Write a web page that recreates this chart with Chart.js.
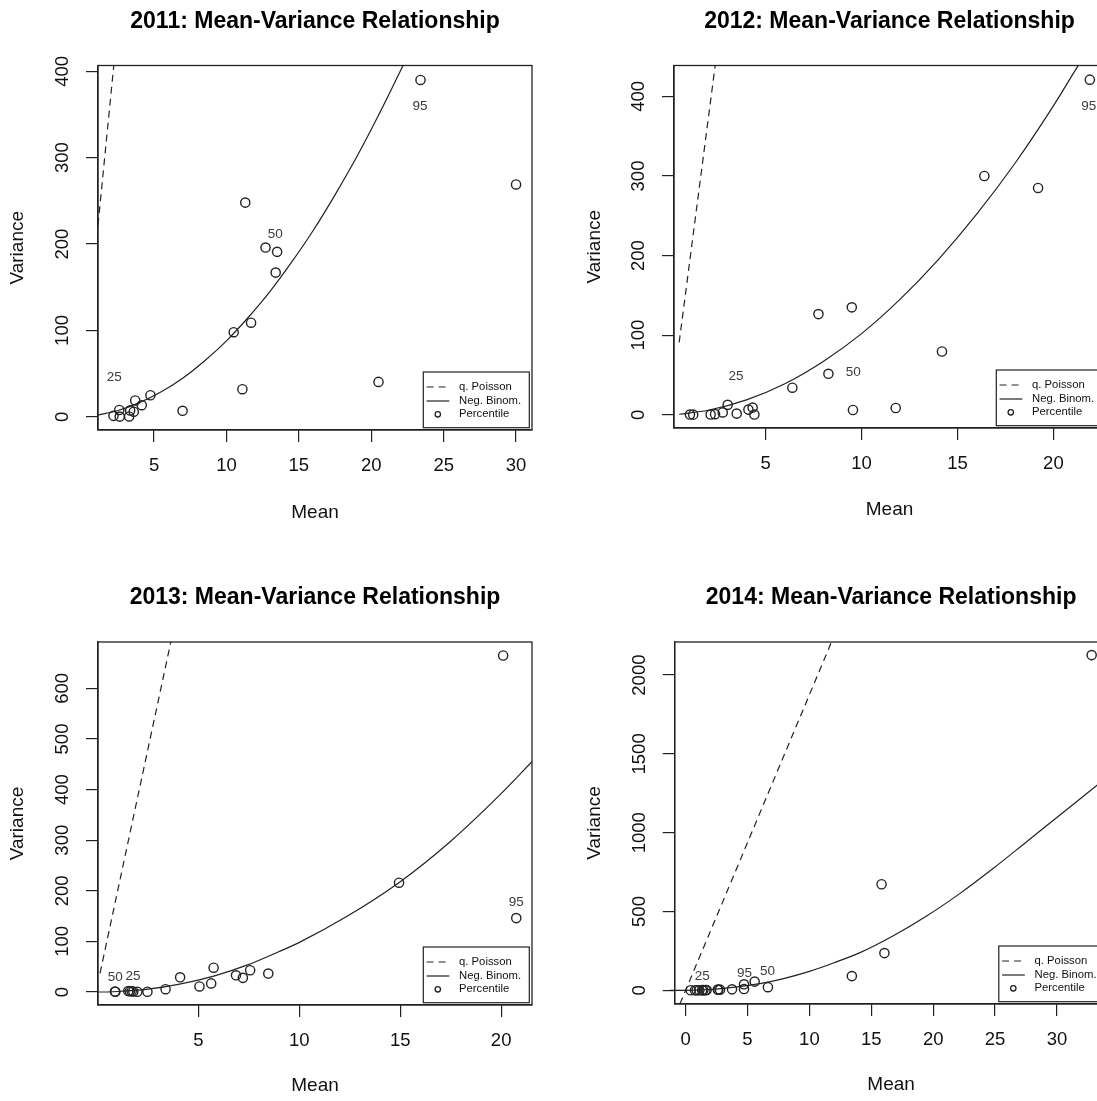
<!DOCTYPE html>
<html>
<head>
<meta charset="utf-8">
<title>Mean-Variance Relationship</title>
<script src="https://cdn.jsdelivr.net/npm/chart.js@4.4.1/dist/chart.umd.min.js"></script>
<style>
    html, body { margin: 0; padding: 0; background: #fff; overflow: hidden; }
    #page { position: relative; width: 1097px; height: 1101px; overflow: hidden; }
    canvas { position: absolute; }
</style>
</head>
<body>
<div id="page">
    <canvas id="c2011" width="548" height="550" style="left:0px;top:0px"></canvas>
    <canvas id="c2012" width="600" height="550" style="left:548px;top:0px"></canvas>
    <canvas id="c2013" width="548" height="551" style="left:0px;top:550px"></canvas>
    <canvas id="c2014" width="600" height="551" style="left:548px;top:550px"></canvas>
</div>
<script>
//Percentile means / variances
//q. Poisson = straight dashed fit, Neg. Binom. = solid curve fit

// 2011
const mean2011 = [23.4, 30.0, 11.3, 12.7, 13.5, 13.4, 11.7, 10.5, 11.1, 20.5, 6.97, 4.75, 3.7, 4.15, 3.6, 3.35, 3.28, 2.6, 2.63, 2.2];
const var2011 = [390, 269, 248, 196, 191, 167, 109, 98, 32, 40.5, 7, 25, 19, 13.5, 6, 7.5, 0.5, 8, 0.3, 1.2];
const poisMean2011 = [1.13, 2.24];
const poisVar2011 = [222, 410];
const nbMean2011 = [1.13, 2.5, 4, 5.5, 7, 8.5, 10, 11.5, 13, 14.5, 16, 17.5, 19, 20.5, 22, 22.6];
const nbVar2011 = [2.1, 7.4, 16.5, 29, 45, 65, 88, 115, 145, 179, 216, 257, 301, 349, 400, 421];
const pctText2011 = ['25', '50', '95'];
const pctMean2011 = [2.25, 13.37, 23.37];
const pctVar2011 = [45.8, 211.4, 359.7];
const xTicks2011 = [5, 10, 15, 20, 25, 30];
const yTicks2011 = [0, 100, 200, 300, 400];

// 2012
const mean2012 = [21.9, 16.4, 19.2, 14.19, 9.49, 7.75, 8.27, 6.39, 9.55, 11.78, 3.02, 2.76, 3.49, 4.1, 4.32, 4.41, 2.13, 2.36, 1.05, 1.22];
const var2012 = [421, 300, 285, 79.5, 135, 126.5, 51.5, 34, 6, 8.5, 12.5, 3, 1.5, 6.5, 9, 0.3, 0.3, 0.8, 0.3, 0.2];
const poisMean2012 = [0.49, 2.4];
const poisVar2012 = [91, 445];
const nbMean2012 = [0.49, 2, 4, 6, 8, 10, 12, 14, 16, 18, 20, 21.3, 22.7];
const nbVar2012 = [0.7, 5.7, 18.7, 39, 67, 102, 145, 195, 252, 316, 388, 439, 490];
const pctText2012 = ['25', '50', '95'];
const pctMean2012 = [3.45, 9.57, 21.84];
const pctVar2012 = [49, 53.5, 388];
const xTicks2012 = [5, 10, 15, 20];
const yTicks2012 = [0, 100, 200, 300, 400];

// 2013
const mean2013 = [20.1, 20.75, 14.94, 8.46, 7.56, 7.2, 6.86, 5.75, 5.63, 5.05, 4.09, 3.37, 2.47, 1.97, 1.77, 1.69, 1.6, 1.52, 0.88, 0.86];
const var2013 = [665, 146, 216, 36.5, 43, 28, 33, 48, 17, 11, 29, 5.5, 0.5, 0.5, 1, 1.5, 1.5, 2, 0.5, 0.8];
const poisMean2013 = [0.12, 3.7];
const poisVar2013 = [37, 705];
const nbMean2013 = [-0.87, 0, 1, 2.5, 4, 5.8, 7.4, 9, 10, 12.3, 15, 17.5, 20, 21.55];
const nbVar2013 = [0, 0, 1, 5.5, 15, 32, 53, 80, 98, 148, 218, 298, 392, 456];
const pctText2013 = ['50', '25', '95'];
const pctMean2013 = [0.87, 1.75, 20.75];
const pctVar2013 = [30, 31, 178];
const xTicks2013 = [5, 10, 15, 20];
const yTicks2013 = [0, 100, 200, 300, 400, 500, 600];

// 2014
const mean2014 = [32.8, 15.83, 16.06, 13.43, 6.65, 5.58, 4.72, 4.72, 3.75, 2.78, 2.64, 2.6, 1.7, 1.6, 1.43, 1.33, 1.11, 0.9, 0.76, 0.41];
const var2014 = [2127, 673, 236, 90, 20, 55, 38, 8, 6, 4, 3, 5, 2, 1, 1, 1, 0.5, 0.5, 0.3, 0.2];
const poisMean2014 = [-0.46, 11.85];
const poisVar2014 = [-87, 2222];
const nbMean2014 = [-1.26, 0, 2, 4, 6, 8, 10, 12, 14.09, 16.78, 19.47, 22.17, 24.86, 27.55, 30.24, 32.93, 34.5];
const nbVar2014 = [0, 0, 5, 20, 42, 76, 120, 175, 239, 346, 471, 615, 774, 943, 1112, 1282, 1380];
const pctText2014 = ['25', '95', '50'];
const pctMean2014 = [1.35, 4.75, 6.62];
const pctVar2014 = [92, 110, 120];
const xTicks2014 = [0, 5, 10, 15, 20, 25, 30];
const yTicks2014 = [0, 500, 1000, 1500, 2000];

const INK = '#222';
const FONT = '"Liberation Sans", Arial, Helvetica, sans-serif';
const TICK_SIZE = 18.5;

Chart.defaults.font.family = FONT;
Chart.defaults.color = '#111';

//plot box in canvas pixels: left, right, top, bottom
var panels =
[
    {
        id: 'c2011', year: '2011',
        mean: mean2011, variance: var2011, poisMean: poisMean2011, poisVar: poisVar2011,
        nbMean: nbMean2011, nbVar: nbVar2011, pctText: pctText2011, pctMean: pctMean2011, pctVar: pctVar2011,
        xTicks: xTicks2011, yTicks: yTicks2011,
        box: [98, 532, 65.5, 430], titleY: 21.5, meanY: 512.5, varX: 18,
        xRange: [1.13, 31.1], yRange: [-15.2, 406.7], nbClipLeft: 0
    },
    {
        id: 'c2012', year: '2012',
        mean: mean2012, variance: var2012, poisMean: poisMean2012, poisVar: poisVar2012,
        nbMean: nbMean2012, nbVar: nbVar2012, pctText: pctText2012, pctMean: pctMean2012, pctVar: pctVar2012,
        xTicks: xTicks2012, yTicks: yTicks2012,
        box: [126, 557, 65.5, 428], titleY: 21.5, meanY: 510, varX: 46.6,
        xRange: [0.22, 22.69], yRange: [-16.6, 438.8], nbClipLeft: 0
    },
    {
        id: 'c2013', year: '2013',
        mean: mean2013, variance: var2013, poisMean: poisMean2013, poisVar: poisVar2013,
        nbMean: nbMean2013, nbVar: nbVar2013, pctText: pctText2013, pctMean: pctMean2013, pctVar: pctVar2013,
        xTicks: xTicks2013, yTicks: yTicks2013,
        box: [98, 532, 92, 455], titleY: 48, meanY: 536, varX: 18.2,
        xRange: [0.02, 21.53], yRange: [-25.7, 691.7], nbClipLeft: 25
    },
    {
        id: 'c2014', year: '2014',
        mean: mean2014, variance: var2014, poisMean: poisMean2014, poisVar: poisVar2014,
        nbMean: nbMean2014, nbVar: nbVar2014, pctText: pctText2014, pctMean: pctMean2014, pctVar: pctVar2014,
        xTicks: xTicks2014, yTicks: yTicks2014,
        box: [126.7, 559.5, 92, 454], titleY: 48, meanY: 534.5, varX: 46.6,
        xRange: [-0.88, 34.08], yRange: [-87, 2210], nbClipLeft: 8
    }
];

//R style box round the plot region
const boxPlugin =
{
    id: 'plotBox',
    afterDatasetsDraw (chart)
    {
        const a = chart.chartArea;
        const ctx = chart.ctx;
        ctx.save();
        ctx.strokeStyle = INK;
        ctx.lineWidth = 1.3;
        ctx.strokeRect(a.left, a.top, a.right - a.left, a.bottom - a.top);
        ctx.restore();
    }
};

//percentile numbers written next to their points
const pctTextPlugin =
{
    id: 'pctText',
    afterDatasetsDraw (chart, args, opts)
    {
        const ctx = chart.ctx;
        const xs = chart.scales.x;
        const ys = chart.scales.y;
        ctx.save();
        ctx.font = '13.5px ' + FONT;
        ctx.fillStyle = '#3c3c3c';
        ctx.textAlign = 'center';
        ctx.textBaseline = 'middle';
        for (var i = 0; i < opts.labels.length; i++)
        {
            ctx.fillText(opts.labels[i], xs.getPixelForValue(opts.x[i]), ys.getPixelForValue(opts.y[i]));
        }
        ctx.restore();
    }
};

//legend box in the bottom right corner of the plot
const boxLegendPlugin =
{
    id: 'boxLegend',
    afterDatasetsDraw (chart)
    {
        const a = chart.chartArea;
        const ctx = chart.ctx;
        const w = 106;
        const h = 55.7;
        const x0 = a.right - 2.7 - w;
        const y0 = a.bottom - 2.3 - h;
        const rows = [15, 29, 42.3];

        ctx.save();
        ctx.fillStyle = '#fff';
        ctx.fillRect(x0, y0, w, h);
        ctx.strokeStyle = INK;
        ctx.lineWidth = 1.2;
        ctx.strokeRect(x0, y0, w, h);

        ctx.font = '11.3px ' + FONT;
        ctx.textAlign = 'left';
        ctx.textBaseline = 'middle';
        chart.data.datasets.forEach((ds, i) => {
            const y = y0 + rows[i];
            ctx.strokeStyle = INK;
            if (ds.showLine)
            {
                ctx.lineWidth = 1.2;
                ctx.setLineDash(ds.borderDash || []);
                ctx.beginPath();
                ctx.moveTo(x0 + 3.3, y);
                ctx.lineTo(x0 + 26, y);
                ctx.stroke();
                ctx.setLineDash([]);
            }
            else
            {
                ctx.lineWidth = 1.3;
                ctx.beginPath();
                ctx.arc(x0 + 14.5, y, 2.7, 0, Math.PI * 2);
                ctx.stroke();
            }
            ctx.fillStyle = '#111';
            ctx.fillText(ds.label, x0 + 35.7, y);
        });
        ctx.restore();
    }
};

panels.forEach(p => DrawPanel(p));

function ToPoints (_x, _y)
{
    return _x.map((v, i) => ({ x: v, y: _y[i] }));
}

function WidestLabel (_labels, _font)
{
    const ctx = document.createElement('canvas').getContext('2d');
    ctx.font = _font;
    var widest = 0;
    _labels.forEach(l => {
        widest = Math.max(widest, ctx.measureText(String(l)).width);
    });
    return widest;
}

function DrawPanel (_p)
{
    const canvas = document.getElementById(_p.id);
    const W = canvas.width;
    const H = canvas.height;
    const left = _p.box[0], right = _p.box[1], top = _p.box[2], bottom = _p.box[3];

    //y tick labels sit 34.7px left of the axis, centred on the tick
    const widest = WidestLabel(_p.yTicks, TICK_SIZE + 'px ' + FONT);
    const yPad = 34.7 - 12 - widest / 2;

    const gridOpts = { display: true, drawOnChartArea: false, drawTicks: true, tickLength: 12, color: INK, lineWidth: 1.2 };
    const borderOpts = { display: true, color: INK, width: 1.3 };

    const config =
    {
        type: 'scatter',
        data:
        {
            datasets:
            [
                {
                    label: 'q. Poisson',
                    data: ToPoints(_p.poisMean, _p.poisVar),
                    showLine: true,
                    borderColor: INK,
                    borderWidth: 1.2,
                    borderDash: [7, 5],
                    pointRadius: 0,
                    clip: 0
                },
                {
                    label: 'Neg. Binom.',
                    data: ToPoints(_p.nbMean, _p.nbVar),
                    showLine: true,
                    borderColor: INK,
                    borderWidth: 1.2,
                    pointRadius: 0,
                    cubicInterpolationMode: 'monotone',
                    clip: { left: _p.nbClipLeft, top: 0, right: 0, bottom: 0 }
                },
                {
                    label: 'Percentile',
                    data: ToPoints(_p.mean, _p.variance),
                    showLine: false,
                    pointRadius: 4.6,
                    borderWidth: 1.4,
                    borderColor: INK,
                    backgroundColor: 'rgba(0,0,0,0)',
                    clip: false
                }
            ]
        },
        options:
        {
            responsive: false,
            animation: false,
            events: [],
            layout: { padding: { left: 0, top: 0, right: W - right, bottom: 0 } },
            plugins:
            {
                legend: { display: false },
                tooltip: { enabled: false },
                title:
                {
                    display: true,
                    fullSize: false,
                    text: _p.year + ': Mean-Variance Relationship',
                    color: '#000',
                    font: { size: 23, weight: 'bold' },
                    padding: { top: _p.titleY - 13.8, bottom: top - _p.titleY - 13.8 }
                },
                pctText: { labels: _p.pctText, x: _p.pctMean, y: _p.pctVar }
            },
            scales:
            {
                x:
                {
                    type: 'linear',
                    position: 'bottom',
                    min: _p.xRange[0],
                    max: _p.xRange[1],
                    afterBuildTicks: axis => { axis.ticks = _p.xTicks.map(v => ({ value: v })); },
                    afterFit: axis => { axis.height = H - bottom; },
                    grid: gridOpts,
                    border: borderOpts,
                    ticks:
                    {
                        autoSkip: false,
                        maxRotation: 0,
                        padding: 12.8,
                        color: '#111',
                        font: { size: TICK_SIZE },
                        callback: v => String(v)
                    },
                    title:
                    {
                        display: true,
                        text: 'Mean',
                        color: '#111',
                        font: { size: 19 },
                        padding: { top: 0, bottom: H - _p.meanY - 11.4 }
                    }
                },
                y:
                {
                    type: 'linear',
                    position: 'left',
                    min: _p.yRange[0],
                    max: _p.yRange[1],
                    afterBuildTicks: axis => { axis.ticks = _p.yTicks.map(v => ({ value: v })); },
                    afterFit: axis => { axis.width = left; },
                    grid: gridOpts,
                    border: borderOpts,
                    ticks:
                    {
                        autoSkip: false,
                        minRotation: 90,
                        maxRotation: 90,
                        crossAlign: 'center',
                        padding: yPad,
                        color: '#111',
                        font: { size: TICK_SIZE },
                        callback: v => String(v)
                    },
                    title:
                    {
                        display: true,
                        text: 'Variance',
                        color: '#111',
                        font: { size: 19 },
                        padding: { top: _p.varX - 11.4, bottom: 0 }
                    }
                }
            }
        },
        plugins: [boxPlugin, pctTextPlugin, boxLegendPlugin]
    };

    const ctx = canvas.getContext('2d');
    if (ctx)
    {
        new Chart(ctx, config);
    }
    else
    {
        console.error('Canvas "' + _p.id + '" not found.');
    }
}
</script>
</body>
</html>
